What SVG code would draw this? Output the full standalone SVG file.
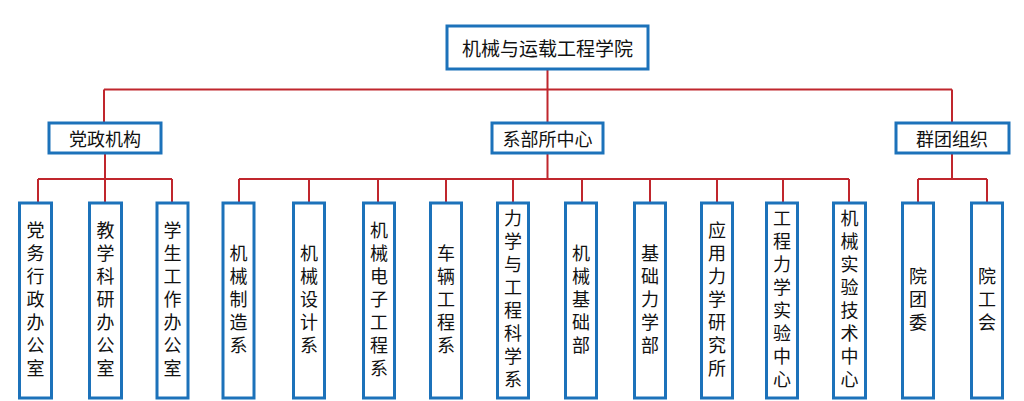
<svg xmlns="http://www.w3.org/2000/svg" width="1024" height="401" viewBox="0 0 1024 401">
<style>
.box{fill:#fff;stroke:#1C72BA;stroke-width:3}
.ln{fill:none;stroke:#C0262D;stroke-width:2}
text{font-family:"Noto Sans CJK SC","Noto Sans",sans-serif;fill:#111;text-anchor:middle}
.t1{font-size:19px;dominant-baseline:central}
.t2{font-size:18px;dominant-baseline:central}
.v{font-size:18px;writing-mode:vertical-rl;glyph-orientation-vertical:0;letter-spacing:5px}
</style>
<rect width="1024" height="401" fill="#fff"/>
<g id="connectors">
<path class="ln" d="M547.5 69V89.5M104 89.5H952M104 89.5V123M547.5 89.5V123M952 89.5V123"/>
<path class="ln" d="M105 153V179M38 179H172M38 179V202M105 179V202M172 179V202"/>
<path class="ln" d="M547.5 153V179M239 179H849M239 179V202M309 179V202M378 179V202M446 179V202M513 179V202M582 179V202M650 179V202M717 179V202M783 179V202M849 179V202"/>
<path class="ln" d="M952 153V179M918 179H987M918 179V202M987 179V202"/>
</g>
<g id="root"><rect class="box" x="447" y="26" width="201" height="43"/><text class="t1" x="547.5" y="47.5">机械与运载工程学院</text></g>
<g id="dangzheng"><rect class="box" x="49" y="123" width="112" height="30"/><text class="t2" x="105" y="138">党政机构</text></g>
<g id="xibu"><rect class="box" x="492" y="123" width="111" height="30"/><text class="t2" x="547.5" y="138">系部所中心</text></g>
<g id="quntuan"><rect class="box" x="896" y="123" width="113" height="30"/><text class="t2" x="952" y="138">群团组织</text></g>

<g id="n1"><rect class="box" x="19.5" y="203" width="32" height="195"/><text class="v" x="35.5" y="301.5">党务行政办公室</text></g>
<g id="n2"><rect class="box" x="89.5" y="203" width="32" height="195"/><text class="v" x="105.5" y="301.5">教学科研办公室</text></g>
<g id="n3"><rect class="box" x="157" y="203" width="31" height="195"/><text class="v" x="172.5" y="301.5">学生工作办公室</text></g>

<g id="n4"><rect class="box" x="223" y="203" width="31" height="195"/><text class="v" x="238.5" y="301.5">机械制造系</text></g>
<g id="n5"><rect class="box" x="293.5" y="203" width="31" height="195"/><text class="v" x="309" y="301.5">机械设计系</text></g>
<g id="n6"><rect class="box" x="363.5" y="203" width="31" height="195"/><text class="v" x="379" y="301.5">机械电子工程系</text></g>
<g id="n7"><rect class="box" x="430.5" y="203" width="31" height="195"/><text class="v" x="446" y="301.5">车辆工程系</text></g>
<g id="n8"><rect class="box" x="497.5" y="203" width="31" height="195"/><text class="v" x="513" y="301">力学与工程科学系</text></g>
<g id="n9"><rect class="box" x="565.5" y="203" width="31" height="195"/><text class="v" x="581" y="301.5">机械基础部</text></g>
<g id="n10"><rect class="box" x="634.5" y="203" width="31" height="195"/><text class="v" x="650" y="301.5">基础力学部</text></g>
<g id="n11"><rect class="box" x="701.5" y="203" width="31" height="195"/><text class="v" x="717" y="301.5">应用力学研究所</text></g>
<g id="n12"><rect class="box" x="766.5" y="203" width="31" height="195"/><text class="v" x="782" y="301">工程力学实验中心</text></g>
<g id="n13"><rect class="box" x="833.5" y="203" width="32" height="195"/><text class="v" x="849.5" y="301">机械实验技术中心</text></g>

<g id="n14"><rect class="box" x="902.5" y="203" width="31" height="195"/><text class="v" x="918" y="301.5">院团委</text></g>
<g id="n15"><rect class="box" x="971.5" y="203" width="31" height="195"/><text class="v" x="987" y="301.5">院工会</text></g>
</svg>
